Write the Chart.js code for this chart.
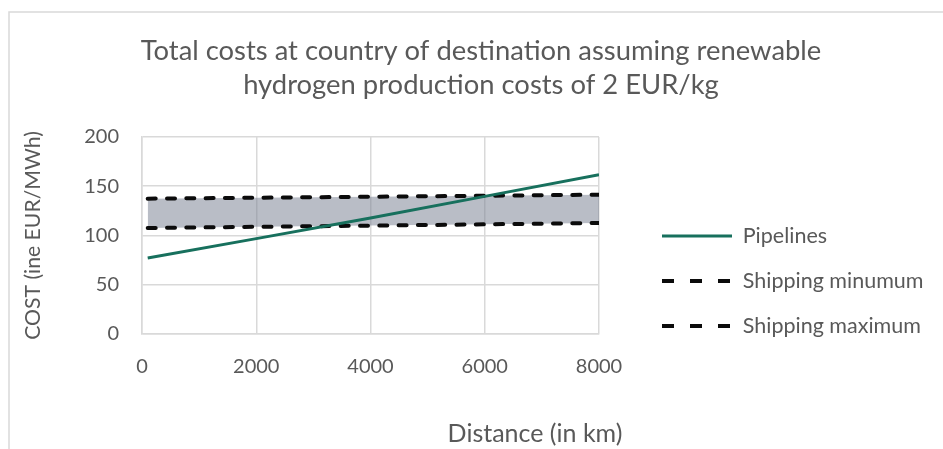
<!DOCTYPE html>
<html>
<head>
<meta charset="utf-8">
<script src="https://cdn.jsdelivr.net/npm/chart.js@4.4.0/dist/chart.umd.min.js"></script>
<style>
  html, body { margin: 0; padding: 0; background: #fff; }
</style>
</head>
<body>
<canvas id="canvas" width="943" height="449"></canvas>
<script>
// data (distance in km, cost in EUR/MWh)
var distance_km = [100, 2000, 4000, 6000, 8000];
var pipelines = [77.2, 96.8, 117.8, 139.7, 161.7];
var shipping_min = [107.6, 108.8, 110.0, 111.3, 112.7];
var shipping_max = [137.4, 138.3, 139.3, 140.3, 141.4];
var x_ticks = [0, 2000, 4000, 6000, 8000];
var y_ticks = [0, 50, 100, 150, 200];
var series_names = ['Pipelines', 'Shipping minumum', 'Shipping maximum'];

var FONT = 'Lato, "Open Sans", sans-serif';
var TEXT = '#595959';
var GRID = '#d9d9d9';

function points(ys) {
    return distance_km.map(function (d, i) { return { x: d, y: ys[i] }; });
}

// legend geometry (so plot right edge lands where the picture has it)
var legendFont = 21.5;
var legendPad = 45 - legendFont;
var legendLine = 70;
function legendWidth() {
    var c = document.createElement('canvas').getContext('2d');
    c.font = legendFont + 'px ' + FONT;
    var w = 0;
    series_names.forEach(function (t) { w = Math.max(w, c.measureText(t).width); });
    return legendPad + legendLine + legendFont / 2 + w;
}
// -11: chart.js legend box comes out a bit wider than the sum above
var padRight = Math.max(0, 943 - 598 - legendWidth() - 11);

var framePlugin = {
    id: 'frame',
    beforeDraw: function (chart) {
        var ctx = chart.ctx;
        ctx.save();
        ctx.strokeStyle = GRID;
        ctx.lineWidth = 1.5;
        ctx.beginPath();
        ctx.moveTo(9, 449);
        ctx.lineTo(9, 12);
        ctx.lineTo(943, 12);
        ctx.stroke();
        ctx.restore();
    }
};

var placePlugin = {
    id: 'place',
    afterLayout: function (chart) {
        var lg = chart.legend;
        if (lg) {
            var dx = (664 - 2 - legendPad) - lg.left;
            lg.left += dx; lg.right += dx;
            var colH = lg.columnSizes && lg.columnSizes[0] ? lg.columnSizes[0].height : 0;
            var y0 = ((lg.top + legendPad) + (lg.bottom - colH)) / 2;
            var dy = 236 - (y0 + legendFont / 2);
            lg.top += dy; lg.bottom += dy;
        }
        var tb = chart.titleBlock;
        if (tb) {
            var w = tb.right - tb.left;
            tb.left = 481 - w / 2;
            tb.right = tb.left + w;
        }
    },
    afterDraw: function (chart) {
        var ctx = chart.ctx;
        ctx.save();
        ctx.font = '25px ' + FONT;
        ctx.fillStyle = TEXT;
        ctx.textAlign = 'center';
        ctx.textBaseline = 'middle';
        ctx.fillText('Distance (in km)', 535, 434);
        ctx.restore();
    }
};

function plain(v) { return String(v); }

var ctx = document.getElementById('canvas').getContext('2d');
var myChart = new Chart(ctx, {
    type: 'line',
    data: {
        datasets: [{
            label: series_names[0],
            data: points(pipelines),
            borderColor: '#17705d',
            borderWidth: 3,
            pointRadius: 0,
            fill: false
        }, {
            label: series_names[1],
            data: points(shipping_min),
            borderColor: '#0b0b0b',
            borderWidth: 4,
            borderDash: [8, 11.3],
            borderCapStyle: 'round',
            pointRadius: 0,
            fill: false
        }, {
            label: series_names[2],
            data: points(shipping_max),
            borderColor: '#0b0b0b',
            borderWidth: 4,
            borderDash: [8, 11.3],
            borderCapStyle: 'round',
            backgroundColor: 'rgba(120, 128, 145, 0.52)',
            pointRadius: 0,
            fill: 1
        }]
    },
    options: {
        responsive: false,
        animation: false,
        layout: { padding: { left: 10, right: padRight, top: 0, bottom: 0 } },
        plugins: {
            title: {
                display: true,
                text: ['Total costs at country of destination assuming renewable',
                       'hydrogen production costs of 2 EUR/kg'],
                color: TEXT,
                font: { family: FONT, size: 27.4, weight: 'normal', lineHeight: 1.24 },
                padding: { top: 34, bottom: 35 }
            },
            legend: {
                position: 'right',
                maxWidth: 500,
                labels: {
                    color: TEXT,
                    font: { family: FONT, size: legendFont },
                    usePointStyle: true,
                    pointStyle: 'line',
                    pointStyleWidth: legendLine,
                    padding: legendPad,
                    generateLabels: function (chart) {
                        var items = Chart.defaults.plugins.legend.labels.generateLabels(chart);
                        items.forEach(function (it) {
                            if (it.datasetIndex > 0) it.lineDash = [12, 16];
                        });
                        return items;
                    }
                }
            },
            tooltip: { enabled: false }
        },
        scales: {
            x: {
                type: 'linear',
                min: 0,
                max: 8000,
                afterBuildTicks: function (axis) {
                    axis.ticks = x_ticks.map(function (v) { return { value: v }; });
                },
                afterFit: function (scale) { scale.height = 115; },
                ticks: {
                    color: TEXT,
                    font: { family: FONT, size: 20 },
                    padding: 21,
                    maxRotation: 0,
                    callback: plain
                },
                grid: { color: GRID, lineWidth: 1.5, drawTicks: false },
                border: { color: GRID, width: 1.5 }
            },
            y: {
                min: 0,
                max: 200,
                afterBuildTicks: function (axis) {
                    axis.ticks = y_ticks.map(function (v) { return { value: v }; });
                },
                afterFit: function (scale) { scale.width = 132; },
                ticks: {
                    color: TEXT,
                    font: { family: FONT, size: 20 },
                    padding: 23,
                    callback: plain
                },
                grid: { color: GRID, lineWidth: 1.5, drawTicks: false },
                border: { color: GRID, width: 1.5 },
                title: {
                    display: true,
                    text: 'COST (ine EUR/MWh)',
                    color: TEXT,
                    font: { family: FONT, size: 21.2, lineHeight: 1.2 },
                    padding: { top: 10, bottom: 0 }
                }
            }
        }
    },
    plugins: [framePlugin, placePlugin]
});
</script>
</body>
</html>
